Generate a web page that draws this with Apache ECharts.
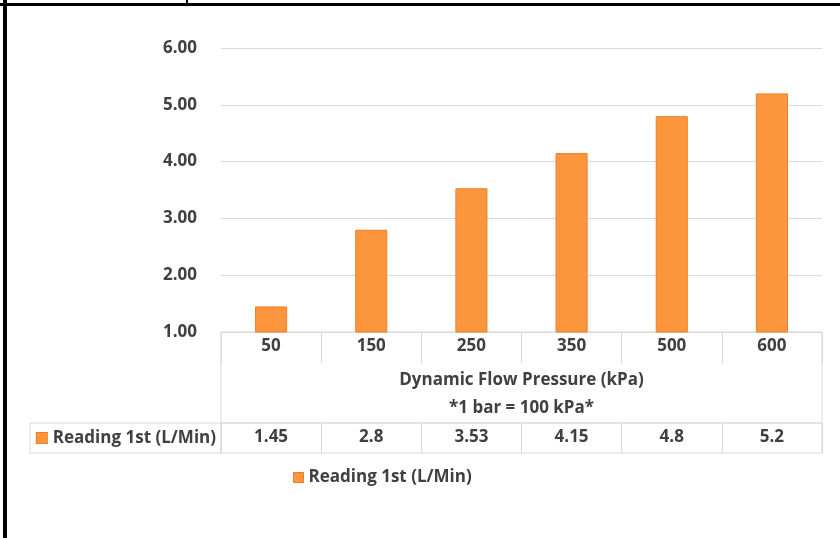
<!DOCTYPE html>
<html><head><meta charset="utf-8">
<script src="https://cdn.jsdelivr.net/npm/echarts@6/dist/echarts.min.js"></script>
<style>html,body{margin:0;padding:0;background:#fff}#c{width:840px;height:538px}</style>
</head><body><div id="c"></div>
<script>
const categories = ['50', '150', '250', '350', '500', '600'];
const readings = [1.45, 2.8, 3.53, 4.15, 4.8, 5.2];
const seriesName = 'Reading 1st (L/Min)';
const axisTitle = 'Dynamic Flow Pressure (kPa)\n*1 bar = 100 kPa*';
const yMin = 1, yMax = 6, yInterval = 1;

const FONT = 'Open Sans';
const TXT = '#404040';
const GRID = '#d9d9d9';
const ORANGE = '#fc963c';
const ORANGE_EDGE = '#ef7d24';
const FS = 17;

const chart = echarts.init(document.getElementById('c'));
chart.setOption({
  animation: false,
  textStyle: { fontFamily: FONT },
  grid: [
    { left: 221, right: 18, top: 48, bottom: 206 },
    { left: 221, right: 18, top: 423, height: 30, show: true, borderColor: GRID, borderWidth: 1 },
    { left: 221, right: 18, top: 332, height: 91, show: true, borderColor: GRID, borderWidth: 1 }
  ],
  xAxis: [
    {
      type: 'category', gridIndex: 0, data: categories,
      axisLine: { lineStyle: { color: GRID, width: 1 } },
      axisTick: { show: true, length: 31, interval: 0, lineStyle: { color: GRID } },
      axisLabel: { margin: 6, fontSize: FS, lineHeight: 17, fontWeight: 'bold', color: TXT, fontFamily: FONT },
      name: axisTitle, nameLocation: 'middle', nameGap: 34,
      nameTextStyle: { fontSize: FS, fontWeight: 'bold', color: TXT, lineHeight: 28, fontFamily: FONT }
    },
    {
      type: 'category', gridIndex: 1, data: categories, position: 'top',
      axisLine: { show: false }, axisTick: { show: false },
      splitLine: { show: true, interval: 0, lineStyle: { color: GRID } },
      axisLabel: {
        inside: true, margin: 6, interval: 0, fontSize: FS, lineHeight: 17, fontWeight: 'bold', color: TXT, fontFamily: FONT,
        formatter: function (v, i) { return String(readings[i]); }
      }
    },
    { type: 'category', gridIndex: 2, data: categories, show: false }
  ],
  yAxis: [
    {
      type: 'value', gridIndex: 0, min: yMin, max: yMax, interval: yInterval,
      axisLine: { show: false }, axisTick: { show: false },
      splitLine: { lineStyle: { color: GRID } },
      axisLabel: {
        margin: 24, fontSize: FS, fontWeight: 'bold', color: TXT, fontFamily: FONT,
        formatter: function (v) { return v.toFixed(2); }
      }
    },
    {
      type: 'category', gridIndex: 1, data: [seriesName],
      axisLine: { show: false }, axisTick: { show: false },
      axisLabel: {
        margin: 0, align: 'right',
        borderColor: GRID, borderWidth: 1, padding: [0, 5, 0, 6], width: 180,
        formatter: function (v) { return '{sq|}{t|' + v + '}'; },
        rich: {
          sq: { width: 10, height: 10, backgroundColor: ORANGE, borderColor: ORANGE_EDGE, borderWidth: 1 },
          t: { fontSize: FS, fontWeight: 'bold', color: TXT, fontFamily: FONT, lineHeight: 30, padding: [0, 0, 0, 6] }
        }
      }
    },
    { type: 'value', gridIndex: 2, show: false }
  ],
  legend: {
    left: 293, top: 469, padding: 0, itemWidth: 10, itemHeight: 10, itemGap: 10,
    icon: 'rect',
    itemStyle: { borderColor: ORANGE_EDGE, borderWidth: 1 },
    textStyle: { fontSize: FS, lineHeight: 17, fontWeight: 'bold', color: TXT, fontFamily: FONT },
    data: [seriesName]
  },
  series: [{
    type: 'bar', name: seriesName, data: readings, barWidth: '32%',
    xAxisIndex: 0, yAxisIndex: 0,
    itemStyle: { color: ORANGE, borderColor: ORANGE_EDGE, borderWidth: 1 }
  }],
  graphic: [
    { type: 'rect', shape: { x: 3, y: 0, width: 4, height: 538 }, style: { fill: '#000' }, silent: true },
    { type: 'rect', shape: { x: 0, y: 3, width: 840, height: 3 }, style: { fill: '#000' }, silent: true },
    { type: 'rect', shape: { x: 186, y: 0, width: 2, height: 5 }, style: { fill: '#000' }, silent: true }
  ]
});
</script></body></html>
